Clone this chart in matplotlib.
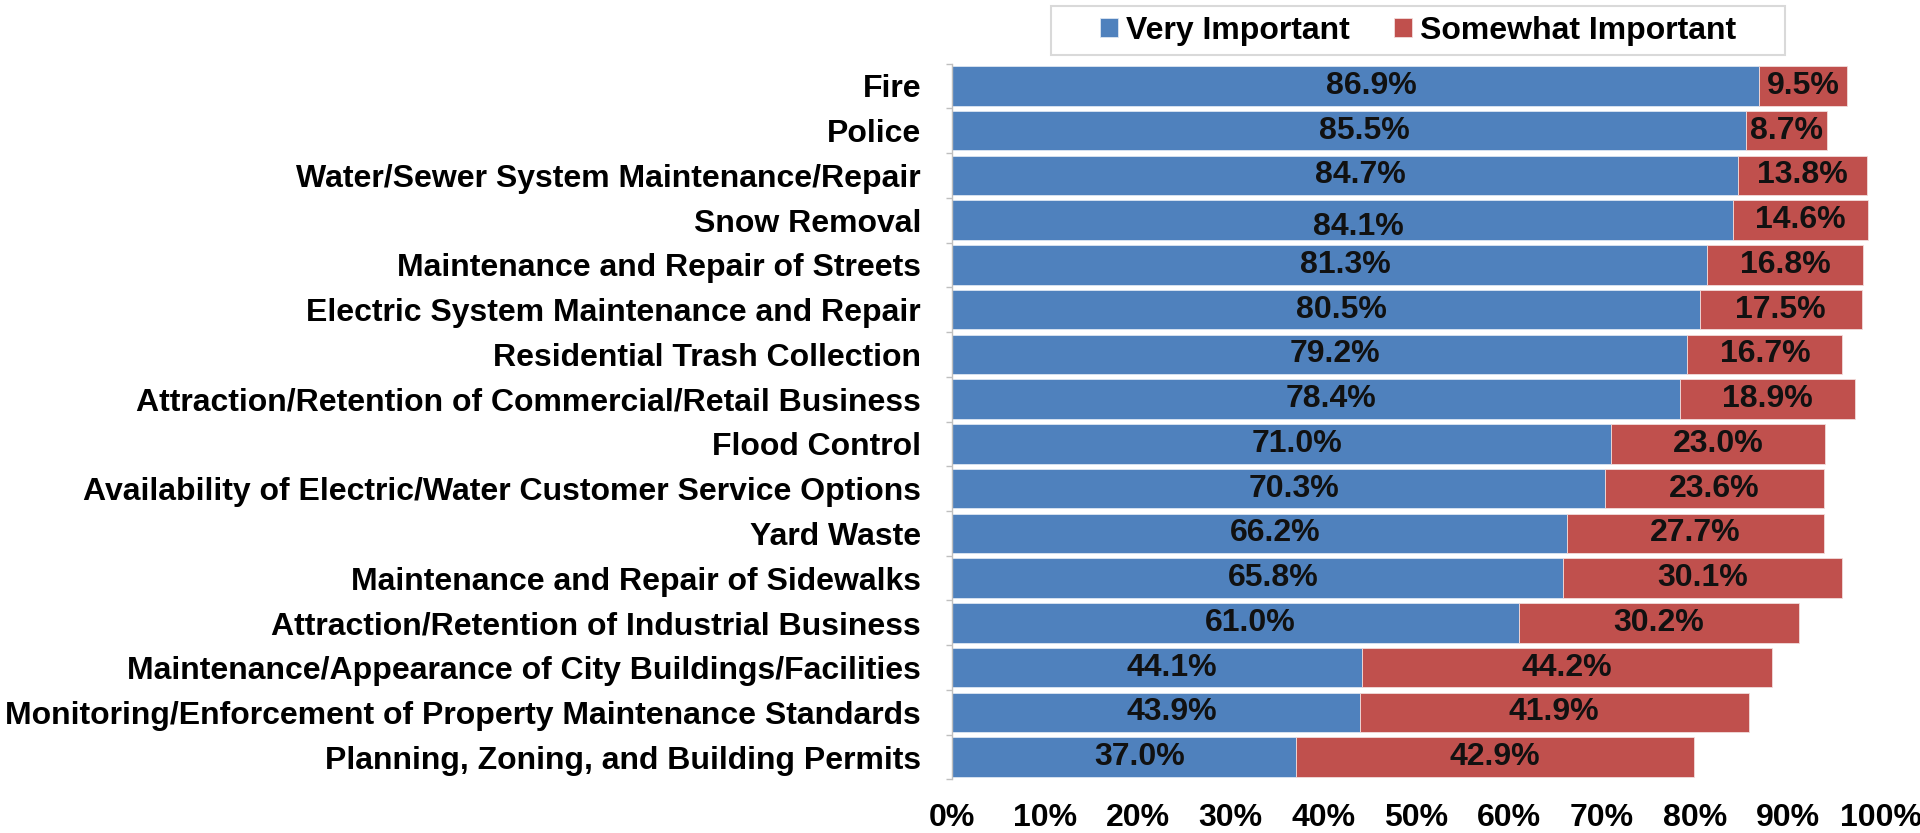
import matplotlib
matplotlib.use("Agg")
import matplotlib.pyplot as plt
import numpy as np
from matplotlib.ticker import FixedLocator, PercentFormatter
from matplotlib.patches import Rectangle

plt.rcParams['font.family'] = ['Liberation Sans', 'DejaVu Sans']
plt.rcParams['font.weight'] = 'bold'

categories = [
    "Fire",
    "Police",
    "Water/Sewer System Maintenance/Repair",
    "Snow Removal",
    "Maintenance and Repair of Streets",
    "Electric System Maintenance and Repair",
    "Residential Trash Collection",
    "Attraction/Retention of Commercial/Retail Business",
    "Flood Control",
    "Availability of Electric/Water Customer Service Options",
    "Yard Waste",
    "Maintenance and Repair of Sidewalks",
    "Attraction/Retention of Industrial Business",
    "Maintenance/Appearance of City Buildings/Facilities",
    "Monitoring/Enforcement of Property Maintenance Standards",
    "Planning, Zoning, and Building Permits",
]
very_important = [86.9, 85.5, 84.7, 84.1, 81.3, 80.5, 79.2, 78.4, 71.0, 70.3, 66.2, 65.8, 61.0, 44.1, 43.9, 37.0]
somewhat_important = [9.5, 8.7, 13.8, 14.6, 16.8, 17.5, 16.7, 18.9, 23.0, 23.6, 27.7, 30.1, 30.2, 44.2, 41.9, 42.9]
series_names = ["Very Important", "Somewhat Important"]
x_ticks = [0, 10, 20, 30, 40, 50, 60, 70, 80, 90, 100]

blue = "#4F81BD"
red = "#C0504D"

W, H = 1920, 833
fig = plt.figure(figsize=(19.2, 8.33), dpi=100)
ax_left, ax_right = 952.3 / W, 1880.5 / W
ax_top, ax_bottom = 1 - 63.6 / H, 1 - 779.4 / H
ax = fig.add_axes([ax_left, ax_bottom, ax_right - ax_left, ax_top - ax_bottom])

n = len(categories)
y = np.arange(n)
h = 0.88
b1 = ax.barh(y, very_important, height=h, color=blue, edgecolor="#DCE6F2", linewidth=0.6, label=series_names[0])
b2 = ax.barh(y, somewhat_important, left=very_important, height=h, color=red, edgecolor="#F2DCDB", linewidth=0.6, label=series_names[1])

fs = 23
# the original's blue labels sit slightly right of centre; Snow Removal's sits low
blue_dx_pts = 11
label_dy = {3: 0.15}
for i, (rect, v) in enumerate(zip(b1, very_important)):
    ax.annotate(f"{v:.1f}%",
                xy=(rect.get_x() + rect.get_width() / 2, rect.get_y() + rect.get_height() / 2 + label_dy.get(i, 0)),
                xytext=(blue_dx_pts, 0), textcoords="offset points",
                ha="center", va="center", fontsize=fs, fontweight="bold", color="#111111")
for rect, v in zip(b2, somewhat_important):
    ax.text(rect.get_x() + rect.get_width() / 2, rect.get_y() + rect.get_height() / 2, f"{v:.1f}%",
            ha="center", va="center", fontsize=fs, fontweight="bold", color="#111111")

ax.set_ylim(n - 0.5, -0.5)
ax.set_xlim(0, 100)
ax.set_yticks(y)
ax.set_yticklabels(categories, fontsize=fs, fontweight="bold")
ax.yaxis.set_minor_locator(FixedLocator(np.arange(n + 1) - 0.5))
ax.tick_params(axis="y", which="major", length=0, pad=22.5)
ax.tick_params(axis="y", which="minor", length=4, color="#BFBFBF", width=1)
ax.set_xticks(x_ticks)
ax.xaxis.set_major_formatter(PercentFormatter(decimals=0))
ax.tick_params(axis="x", length=0, pad=17, labelsize=fs)
for lbl in ax.get_xticklabels():
    lbl.set_fontweight("bold")

for s in ["top", "right", "bottom"]:
    ax.spines[s].set_visible(False)
ax.spines["left"].set_color("#BFBFBF")
ax.spines["left"].set_linewidth(1)

# legend frame drawn separately (wider horizontal padding than matplotlib's frame)
fig.patches.append(Rectangle((1051 / W, 1 - 55 / H), (1785 - 1051) / W, 49 / H,
                             transform=fig.transFigure, facecolor="white",
                             edgecolor="#D9D9D9", linewidth=1.5, zorder=0))
leg = fig.legend(handles=[b1, b2], labels=series_names, loc="center",
                 bbox_to_anchor=((1051 + 1785) / 2 / W, 1 - 30.5 / H),
                 ncol=2, fontsize=fs, frameon=False,
                 handlelength=0.55, handleheight=0.55, handletextpad=0.25, columnspacing=1.4,
                 borderpad=0.35, borderaxespad=0)
for t in leg.get_texts():
    t.set_fontweight("bold")

fig.savefig("out.png", dpi=100)
